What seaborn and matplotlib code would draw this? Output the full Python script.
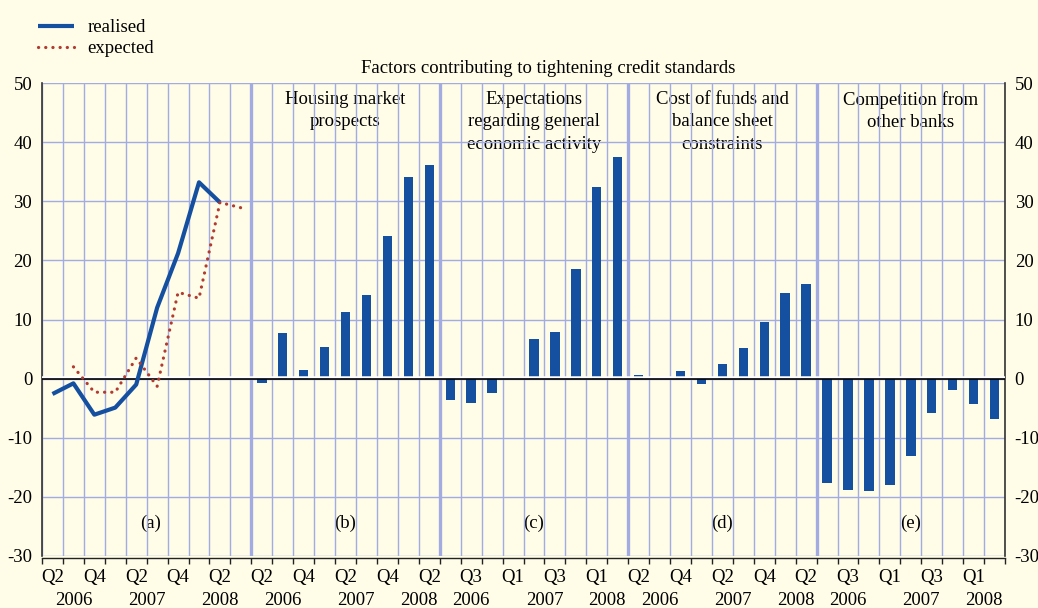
import numpy as np
import pandas as pd
import matplotlib
matplotlib.use("Agg")
import matplotlib.pyplot as plt
import seaborn as sns
from matplotlib.transforms import blended_transform_factory

# ---------------- data ----------------
realised = [-2.6, -0.8, -6.1, -4.9, -1.0, 12.0, 21.2, 33.2, 29.8]
expected = [2.0, -2.3, -2.3, 3.5, -1.3, 14.6, 13.6, 29.8, 28.9]
housing = [-0.7, 7.7, 1.5, 5.3, 11.2, 14.1, 24.2, 34.1, 36.1]
activity = [-3.6, -4.1, -2.4, -0.1, 6.7, 7.9, 18.5, 32.4, 37.4]
funding = [0.6, 0.0, 1.3, -0.9, 2.4, 5.1, 9.6, 14.4, 16.0]
competition = [-17.7, -18.8, -19.0, -18.0, -13.1, -5.8, -1.9, -4.3, -6.8]

quarters_a = ["Q2", "Q3", "Q4", "Q1", "Q2", "Q3", "Q4", "Q1", "Q2", "Q3"]
years_a = ["2006"] * 3 + ["2007"] * 4 + ["2008"] * 3
quarters_b = ["Q2", "Q3", "Q4", "Q1", "Q2", "Q3", "Q4", "Q1", "Q2"]
years_b = ["2006"] * 3 + ["2007"] * 4 + ["2008"] * 2

panel_titles = ["", "Housing market\nprospects",
                "Expectations\nregarding general\neconomic activity",
                "Cost of funds and\nbalance sheet\nconstraints",
                "Competition from\nother banks"]
panel_tags = ["(a)", "(b)", "(c)", "(d)", "(e)"]
label_offsets = [0, 0, 1, 0, 1]   # which quarter is labelled first in each panel
title_text = "Factors contributing to tightening credit standards"
legend_labels = ["realised", "expected"]

# ---------------- style ----------------
bg = "#FFFDE8"
grid_c = "#A2ABE2"
blue = "#144FA0"
red = "#B23A30"
dark = "#333333"
FS = 13.5

plt.rcParams["font.family"] = ["Liberation Serif", "DejaVu Serif"]
plt.rcParams["axes.unicode_minus"] = False

fig = plt.figure(figsize=(10.38, 6.08), dpi=100)
fig.patch.set_facecolor(bg)
ax = fig.add_axes([42 / 1038, 1 - 556 / 608, (1005 - 42) / 1038, 473 / 608])
ax.set_facecolor(bg)

# panel layout (slot indices)
bar_series = [housing, activity, funding, competition]
panel_quarters = [quarters_a] + [quarters_b] * 4
panel_years = [years_a] + [years_b] * 4
starts = [0]
for q in panel_quarters[:-1]:
    starts.append(starts[-1] + len(q))
n_slots = starts[-1] + len(panel_quarters[-1])

# bars
pos, vals = [], []
for k, series in enumerate(bar_series):
    s = starts[k + 1]
    pos += list(range(s, s + len(series)))
    vals += list(series)
df_bars = pd.DataFrame({"pos": pos, "value": vals})
sns.barplot(data=df_bars, x="pos", y="value", native_scale=True, width=0.45,
            color=blue, saturation=1, linewidth=0, errorbar=None, ax=ax, zorder=2)

# lines
df_real = pd.DataFrame({"pos": list(range(0, len(realised))), "value": realised})
df_exp = pd.DataFrame({"pos": list(range(1, 1 + len(expected))), "value": expected})
sns.lineplot(data=df_real, x="pos", y="value", color=blue, lw=3.0, ax=ax, zorder=6)
l_real = ax.lines[-1]
sns.lineplot(data=df_exp, x="pos", y="value", color=red, lw=2.3, ax=ax, zorder=6)
l_exp = ax.lines[-1]
l_exp.set_dashes((0.05, 2.2))
l_exp.set_dash_capstyle("round")
l_real.set_solid_capstyle("butt")

# axes limits / grid
ax.set_xlim(-0.5, n_slots - 0.5)
ax.set_ylim(-30, 50)
ax.set_yticks(np.arange(-30, 51, 10))
bounds = np.arange(-0.5, n_slots, 1.0)
ax.set_xticks(bounds, minor=True)
ax.set_axisbelow(True)
ax.grid(False)
ax.grid(which="minor", axis="x", color=grid_c, lw=1.0, zorder=0.5)
ax.grid(which="major", axis="y", color=grid_c, lw=1.0, zorder=0.5)
for s in starts[1:]:
    ax.axvline(s - 0.5, color=grid_c, lw=2.4, zorder=0.6)

# zero line
ax.axhline(0.3, color="white", lw=1.8, zorder=4.5)
ax.axhline(0, color="black", lw=1.2, zorder=5)

# quarter tick labels
tick_pos, tick_lab = [], []
for k, q in enumerate(panel_quarters):
    for i in range(label_offsets[k], len(q), 2):
        tick_pos.append(starts[k] + i)
        tick_lab.append(q[i])
ax.set_xticks(tick_pos)
ax.set_xticklabels(tick_lab)
ax.tick_params(axis="x", which="major", length=0, pad=8, labelsize=FS)
ax.tick_params(axis="x", which="minor", length=4.5, width=1.0, color="#222222", direction="out")
ax.tick_params(axis="y", length=0, labelleft=True, labelright=True, labelsize=FS, pad=7)
ax.set_xlabel("")
ax.set_ylabel("")

# spines
for side in ["left", "right"]:
    ax.spines[side].set_color(dark)
    ax.spines[side].set_linewidth(1.2)
ax.spines["top"].set_visible(False)
ax.spines["bottom"].set_position(("outward", 1.5))
ax.spines["bottom"].set_color("#222222")
ax.spines["bottom"].set_linewidth(1.0)

# year labels
trans = blended_transform_factory(ax.transData, ax.transAxes)
for k, yrs in enumerate(panel_years):
    for yr in dict.fromkeys(yrs):
        idx = [starts[k] + i for i, y in enumerate(yrs) if y == yr]
        ax.text(np.mean(idx), -0.094, yr, transform=trans, ha="center", va="center", fontsize=FS)

# panel titles and tags
for k in range(len(panel_quarters)):
    centre = starts[k] - 0.5 + len(panel_quarters[k]) / 2
    if panel_titles[k]:
        ax.text(centre, 48.7, panel_titles[k], ha="center", va="top", fontsize=FS,
                linespacing=1.42, zorder=0.4)
    tag_x = centre + (0.2 if k == 0 else 0)
    ax.text(tag_x, -24.4, panel_tags[k], ha="center", va="center", fontsize=FS, zorder=0.4)

ax.text(23.7, 1.0317, title_text, transform=trans, ha="center", va="center", fontsize=FS)

# legend
fig.legend(handles=[l_real, l_exp], labels=legend_labels, loc="upper left",
           bbox_to_anchor=(38 / 1038, 1 - 19 / 608), frameon=False, fontsize=FS,
           handlelength=1.9, handletextpad=0.75, labelspacing=0.22,
           borderpad=0, borderaxespad=0)

fig.savefig("out.png", dpi=100, facecolor=bg)
